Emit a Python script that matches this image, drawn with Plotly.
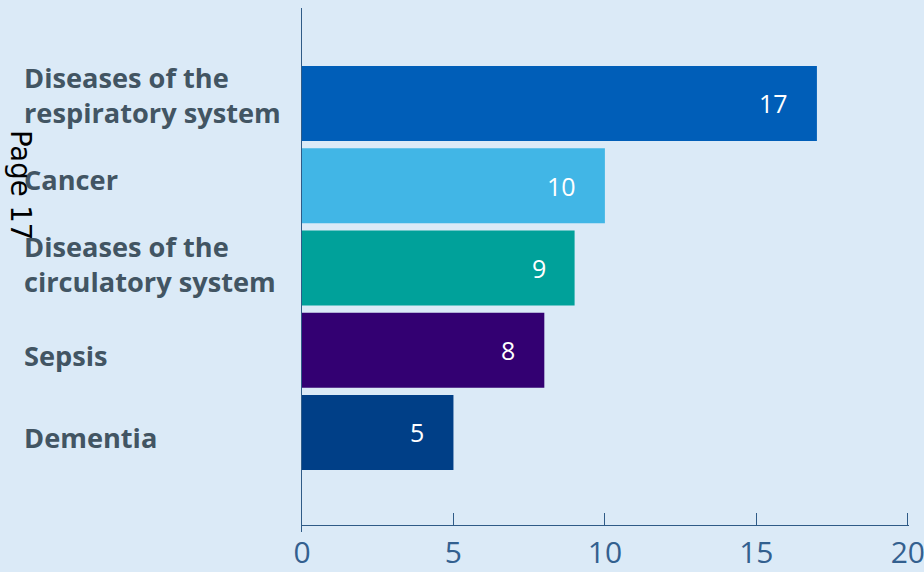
import plotly.graph_objects as go

# Causes of death, counts per category
categories = [
    "Diseases of the<br>respiratory system",
    "Cancer",
    "Diseases of the<br>circulatory system",
    "Sepsis",
    "Dementia",
]
values = [17, 10, 9, 8, 5]
bar_colors = ["#005EB8", "#41B6E6", "#00A19A", "#330072", "#003F87"]
x_ticks = [0, 5, 10, 15, 20]

# small vertical nudges for the left-hand category labels (px)
label_shift = [8, 6, 4, -5, -5]

BG = "#DBEAF7"
AXIS = "#2F5B87"
LABEL = "#425563"

X_MAX = 20.04
PLOT_W = 606 * X_MAX / 20  # 20 lands at 606 px from the left axis

fig = go.Figure(
    go.Bar(
        x=values,
        y=categories,
        orientation="h",
        marker=dict(color=bar_colors, line=dict(width=0)),
        width=0.912,
        hoverinfo="skip",
    )
)

# value labels inside the bar ends
for cat, v in zip(categories, values):
    fig.add_annotation(
        x=v, y=cat, xref="x", yref="y",
        text=str(v), showarrow=False,
        xanchor="right", yanchor="middle", xshift=-27,
        font=dict(family="Open Sans", size=25, color="white"),
    )

# left-aligned category labels
for cat, dy in zip(categories, label_shift):
    fig.add_annotation(
        x=-280 / PLOT_W, y=cat, xref="paper", yref="y",
        text=cat, showarrow=False, align="left",
        xanchor="left", yanchor="middle", yshift=dy,
        font=dict(family="Open Sans", size=27.2, color=LABEL, weight="bold"),
    )

# page marker running down the left edge
fig.add_annotation(
    x=-281 / PLOT_W, y=0.662, xref="paper", yref="paper",
    text="Page 17", showarrow=False, textangle=90,
    xanchor="center", yanchor="middle",
    font=dict(family="DejaVu Sans", size=27.5, color="black"),
)

fig.update_layout(
    width=924, height=572,
    margin=dict(l=302, r=924 - 302 - PLOT_W, t=8, b=40),
    paper_bgcolor=BG, plot_bgcolor=BG,
    showlegend=False,
    xaxis=dict(
        range=[0, X_MAX], tickvals=x_ticks,
        anchor="free", position=7 / 524,
        showline=True, linecolor=AXIS, linewidth=1.3,
        ticks="inside", ticklen=12, tickcolor=AXIS, tickwidth=1.3,
        showgrid=False, zeroline=False,
        ticklabeloverflow="allow", ticklabelstandoff=1,
        tickfont=dict(family="Open Sans", size=30, color="#33608F"),
        automargin=False,
    ),
    yaxis=dict(
        type="category", categoryarray=categories,
        range=[5.21, -1.16],
        showline=True, linecolor=AXIS, linewidth=1.3,
        showticklabels=False, ticks="",
        showgrid=False, zeroline=False,
        automargin=False,
    ),
)

fig.write_html("out.html")
